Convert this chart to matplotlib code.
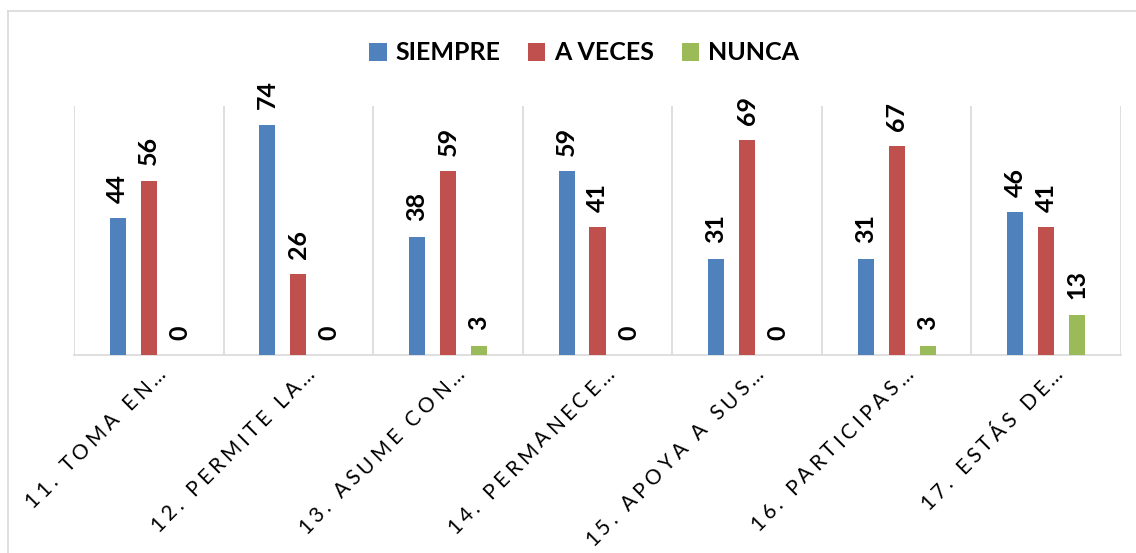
import matplotlib
matplotlib.use("Agg")
import matplotlib.pyplot as plt
import numpy as np
from matplotlib.lines import Line2D
from matplotlib.font_manager import FontProperties

categories = ["11. TOMA EN…", "12. PERMITE LA…", "13. ASUME CON…", "14. PERMANECE…",
              "15. APOYA A SUS…", "16. PARTICIPAS…", "17. ESTÁS DE…"]
series_names = ["SIEMPRE", "A VECES", "NUNCA"]
siempre = [44, 74, 38, 59, 31, 31, 46]
a_veces = [56, 26, 59, 41, 69, 67, 41]
nunca = [0, 0, 3, 0, 0, 3, 13]
colors = ["#4F81BD", "#C0504D", "#9BBB59"]

plt.rcParams['font.family'] = ['Lato', 'DejaVu Sans']

W, H = 1136, 553
fig = plt.figure(figsize=(W / 100, H / 100), dpi=100)
ax = fig.add_axes([74 / W, 1 - 355 / H, (1121 - 74) / W, (355 - 106) / H])

x = np.arange(len(categories))
width = 0.107
offset = 0.207
for i, (vals, name, c) in enumerate(zip([siempre, a_veces, nunca], series_names, colors)):
    pos = x + (i - 1) * offset
    ax.bar(pos, vals, width, color=c, label=name, zorder=3)
    for p, v in zip(pos, vals):
        ax.annotate(str(v), (p, v), xytext=(0, 11), textcoords='offset points',
                    rotation=90, ha='center', va='bottom', fontsize=18,
                    fontweight='bold', color='black')

ax.set_xlim(-0.5, len(categories) - 0.5)
ax.set_ylim(0, 80)
ax.set_yticks([])
ax.set_xticks(x)
ax.set_xticklabels([])
ax.tick_params(axis='x', length=0)
ax.set_xticks(np.arange(-0.5, len(categories) + 0.5, 1), minor=True)
ax.tick_params(axis='x', which='minor', length=0)
ax.grid(True, which='minor', axis='x', color='#D9D9D9', linewidth=1.2, zorder=0)
for s in ['top', 'right', 'left']:
    ax.spines[s].set_visible(False)
ax.spines['bottom'].set_color('#D9D9D9')
ax.spines['bottom'].set_linewidth(1.2)

# letter-spaced rotated category labels
renderer = fig.canvas.get_renderer()
fp = FontProperties(family=['Lato', 'DejaVu Sans'], size=15)
spacing = 4.0  # px of extra letter spacing


def adv(s):
    w1 = renderer.get_text_width_height_descent("|" + s + "|", fp, ismath=False)[0]
    w0 = renderer.get_text_width_height_descent("||", fp, ismath=False)[0]
    return w1 - w0


d = np.array([np.cos(np.pi / 4), np.sin(np.pi / 4)])
for xi, lab in zip(x, categories):
    tx, ty = ax.transData.transform((xi, 0))
    end = np.array([tx + 18, ty - 20])
    L = adv(lab) + spacing * (len(lab) - 1)
    start = end - L * d
    for k, ch in enumerate(lab):
        off = adv(lab[:k]) + spacing * k
        px, py = start + off * d
        fx, fy = fig.transFigure.inverted().transform((px, py))
        fig.text(fx, fy, ch, fontproperties=fp, rotation=45, rotation_mode='anchor',
                 ha='left', va='baseline', color='#000000')

fig.legend(loc='center', bbox_to_anchor=(584 / W, 1 - 53 / H), ncol=3,
           frameon=False, prop={'family': ['Lato', 'DejaVu Sans'], 'size': 18, 'weight': 'bold'},
           handlelength=0.7, handleheight=0.7, handletextpad=0.35,
           columnspacing=1.1)

fig.add_artist(Line2D([8 / W, 1], [1 - 11 / H, 1 - 11 / H], color='#D9D9D9', lw=1.2,
                      transform=fig.transFigure))
fig.add_artist(Line2D([8 / W, 8 / W], [0, 1 - 11 / H], color='#D9D9D9', lw=1.2,
                      transform=fig.transFigure))

fig.savefig("out.png", dpi=100, facecolor='white')
